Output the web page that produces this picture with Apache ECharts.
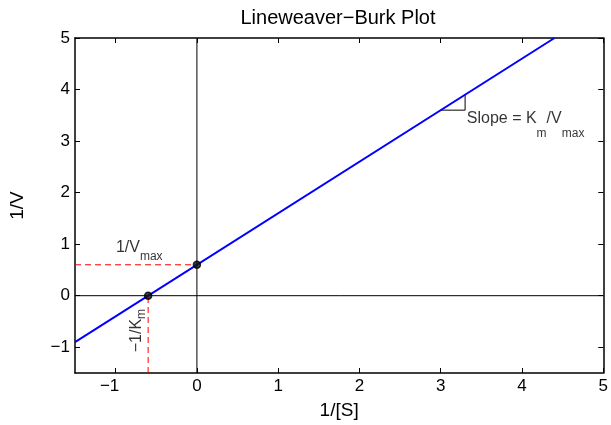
<!DOCTYPE html>
<html lang="en">
<head>
    <meta charset="UTF-8">
    <title>Lineweaver-Burk Plot</title>
    <script src="https://cdn.jsdelivr.net/npm/echarts@6/dist/echarts.min.js"></script>
    <style>
        html, body { margin: 0; padding: 0; background: #fff; }
    </style>
</head>
<body>
<div id="main" style="width: 611px;height:425px;"></div>
<script type="text/javascript">
    // line 1/V = (Km/Vmax) * 1/[S] + 1/Vmax
    var lineX = [-1.5, 4.4];
    var lineY = [-0.9, 5.0];
    var invVmax = 0.6;      // y intercept
    var negInvKm = -0.6;    // x intercept
    var slopeX = [3, 3.3, 3.3];
    var slopeY = [3.6, 3.6, 3.9];
    var xTicks = [-1, 0, 1, 2, 3, 4, 5];
    var yTicks = [-1, 0, 1, 2, 3, 4, 5];

    var font = 'Liberation Sans, Arial, Helvetica, sans-serif';

    function fmt(v) {
        return String(v).replace('-', '\u2212');
    }

    function pairs(xs, ys) {
        return xs.map(function (x, i) { return [x, ys[i]]; });
    }

    function axisBase(pos, ticks, showLabel) {
        return {
            type: 'value',
            position: pos,
            min: -1.5,
            max: 5,
            axisLine: { show: true, onZero: false, lineStyle: { color: '#000', width: 1.5 } },
            axisTick: { show: true, inside: true, length: 5, customValues: ticks, lineStyle: { color: '#000' } },
            axisLabel: {
                show: showLabel,
                customValues: ticks,
                color: '#000',
                fontSize: 17,
                fontFamily: font,
                margin: 5,
                formatter: fmt
            },
            splitLine: { show: false }
        };
    }

    var nameStyle = { color: '#000', fontSize: 19, fontFamily: font };

    var xBottom = axisBase('bottom', xTicks, true);
    xBottom.name = '1/[S]';
    xBottom.nameLocation = 'middle';
    xBottom.nameGap = 28;
    xBottom.nameTextStyle = nameStyle;
    // matlab puts negative x labels a bit left of the tick
    xBottom.axisLabel.formatter = function (v) {
        return v < 0 ? '{n|' + fmt(v) + '}' : fmt(v);
    };
    xBottom.axisLabel.rich = { n: { fontSize: 17, fontFamily: font, color: '#000', padding: [0, 12, 0, 0] } };
    var xTop = axisBase('top', xTicks, false);

    var yLeft = axisBase('left', yTicks, true);
    yLeft.name = '1/V';
    yLeft.nameLocation = 'middle';
    yLeft.nameGap = 48;
    yLeft.nameTextStyle = nameStyle;
    var yRight = axisBase('right', yTicks, false);

    function plain(data, color, width, type, z) {
        return {
            type: 'line',
            data: data,
            symbol: 'none',
            silent: true,
            z: z || 2,
            itemStyle: { color: color },
            lineStyle: { color: color, width: width, type: type || 'solid', opacity: 1 }
        };
    }

    // sub tokens sit at the bottom of a taller line box, main text at the top
    function note(x, y, text, lineH, align, rotate) {
        return {
            type: 'scatter',
            data: [[x, y]],
            symbolSize: 0,
            silent: true,
            z: 6,
            label: {
                show: true,
                position: 'inside',
                align: align || 'center',
                verticalAlign: 'middle',
                rotate: rotate || 0,
                formatter: text,
                rich: {
                    b: { fontSize: 16, fontFamily: font, color: '#000', verticalAlign: 'top', lineHeight: 16 },
                    s: { fontSize: 12, fontFamily: font, color: '#000', verticalAlign: 'bottom', lineHeight: 12 },
                    e: { fontSize: 1, lineHeight: lineH }
                }
            }
        };
    }

    var option = {
        animation: false,
        title: {
            text: 'Lineweaver\u2212Burk Plot',
            left: 333,
            top: 3,
            textAlign: 'center',
            textStyle: { color: '#000', fontSize: 20, fontWeight: 'normal', fontFamily: font }
        },
        grid: { left: 71, right: 7, top: 38, bottom: 49 },
        xAxis: [xBottom, xTop],
        yAxis: [yLeft, yRight],
        series: [
            plain([[0, -1.5], [0, 5]], '#000', 1),
            plain([[-1.5, 0], [5, 0]], '#000', 1),
            plain([[-1.5, invVmax], [0, invVmax]], '#ff0000', 1, [6, 4], 3),
            plain([[negInvKm, -1.5], [negInvKm, 0]], '#ff0000', 1, [6, 4], 3),
            plain(pairs(slopeX, slopeY), '#000', 1),
            plain(pairs(lineX, lineY), '#0000ff', 2, 'solid', 4),
            {
                type: 'scatter',
                data: [[0, invVmax], [negInvKm, 0]],
                symbol: 'circle',
                symbolSize: 7,
                silent: true,
                z: 5,
                itemStyle: { color: '#111', borderColor: '#000', borderWidth: 1.5 }
            },
            note(-1.0, 0.87, '{e| }{b|1/V}{s|max}', 23, 'left'),
            note(-0.725, -0.68, '{e| }{b|\u22121/K}{s|m}', 19, 'center', 90),
            note(3.317, 3.31, '{e| }{b|Slope = K}{s|m}{b|/V}{s|max}', 30, 'left')
        ]
    };

    var myChart = echarts.init(document.getElementById('main'));
    myChart.setOption(option);
</script>
</body>
</html>
